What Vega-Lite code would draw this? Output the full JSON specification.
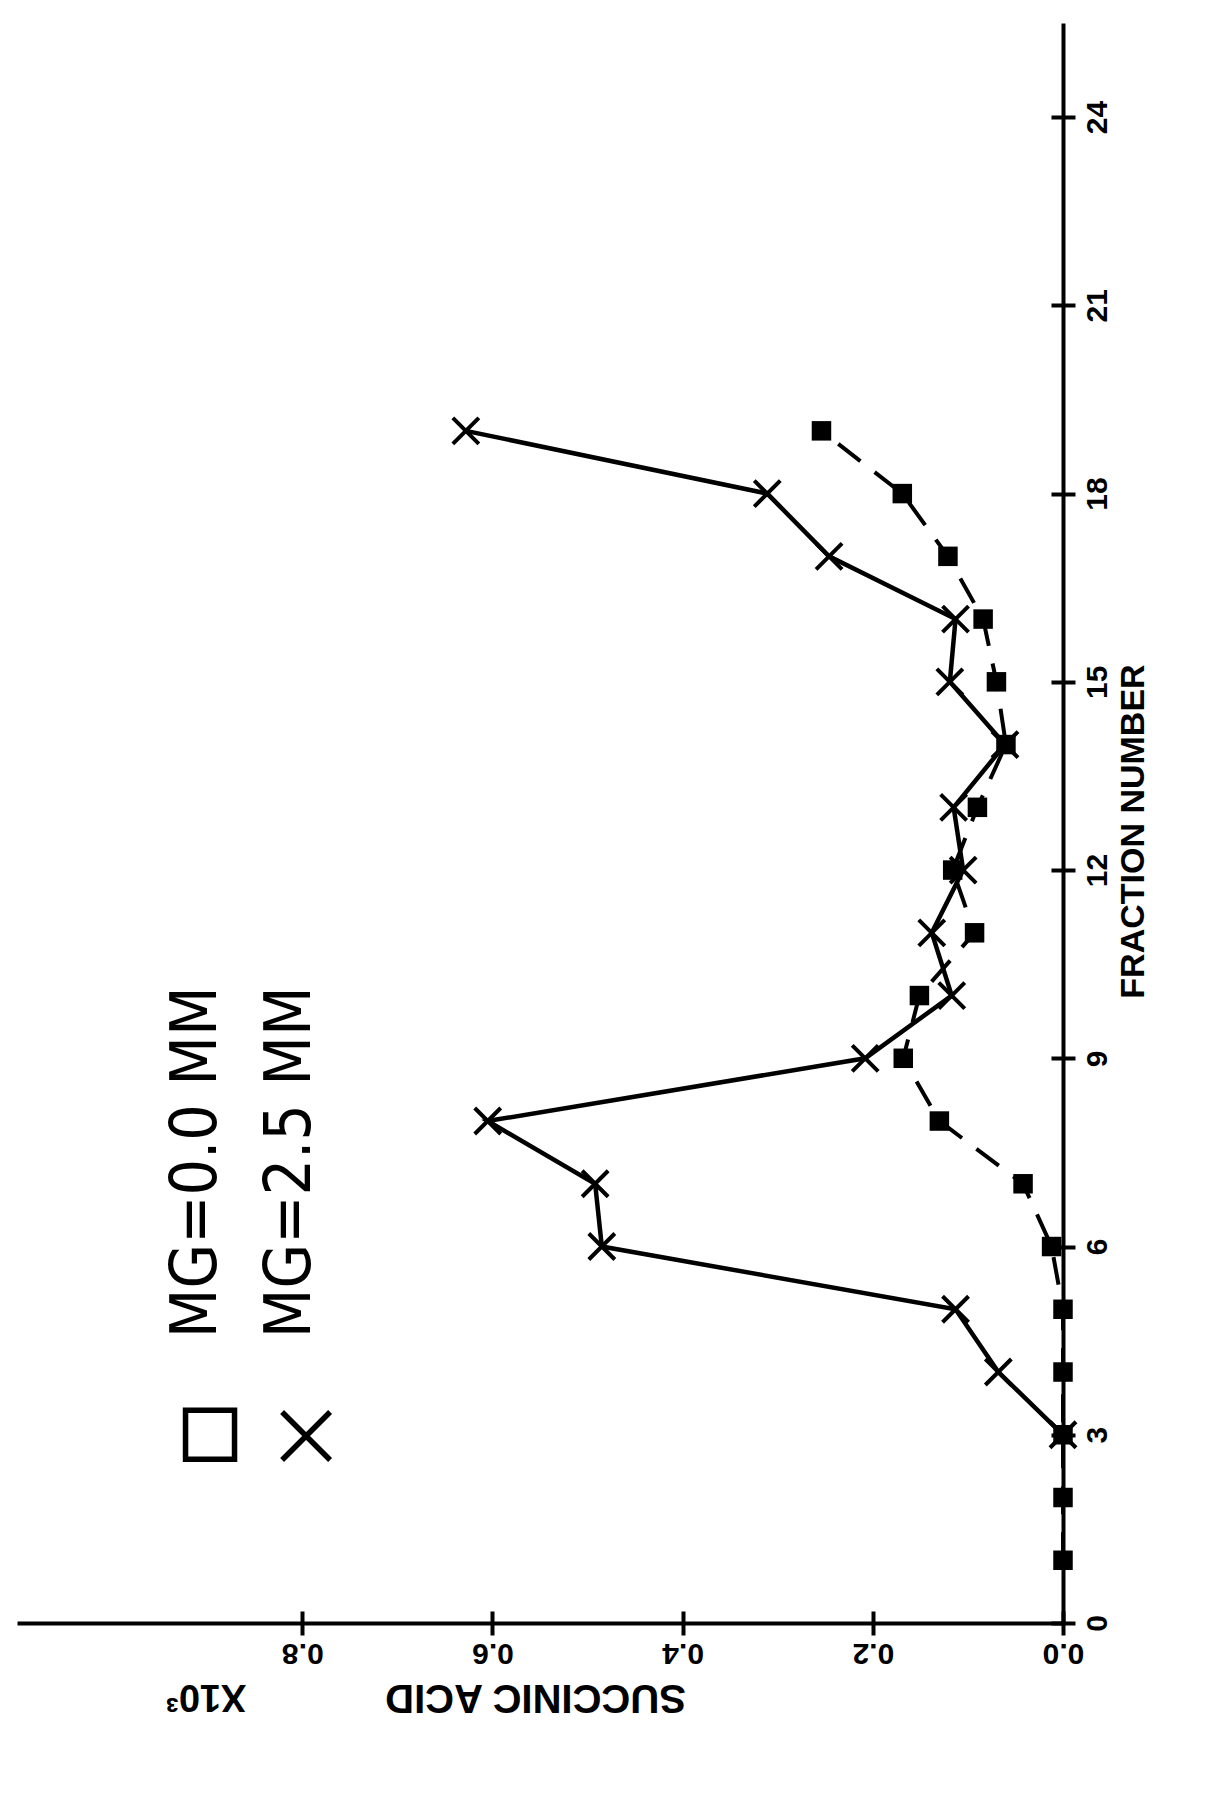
{
  "$schema": "https://vega.github.io/schema/vega-lite/v6.json",
  "width": 1046,
  "height": 1600,
  "autosize": {"type": "none"},
  "padding": {"left": 17, "top": 23, "right": 162, "bottom": 173},
  "background": "white",
  "config": {
    "view": {"stroke": null},
    "axis": {
      "domainColor": "black",
      "domainWidth": 4,
      "tickColor": "black",
      "tickWidth": 4,
      "tickSize": 12,
      "labelColor": "black",
      "titleColor": "black",
      "labelFont": "Liberation Sans",
      "labelFontWeight": "bold",
      "titleFont": "Liberation Sans",
      "titleFontWeight": "bold",
      "labelOverlap": false,
      "labelFlush": false,
      "grid": true,
      "gridColor": "black",
      "gridWidth": 4,
      "gridOpacity": 1
    }
  },
  "datasets": {
    "mg00": [
      {"fraction": 1, "acid": 0},
      {"fraction": 2, "acid": 0},
      {"fraction": 3, "acid": 0},
      {"fraction": 4, "acid": 0},
      {"fraction": 5, "acid": 0},
      {"fraction": 6, "acid": 0.012},
      {"fraction": 7, "acid": 0.042},
      {"fraction": 8, "acid": 0.13},
      {"fraction": 9, "acid": 0.168},
      {"fraction": 10, "acid": 0.151},
      {"fraction": 11, "acid": 0.093},
      {"fraction": 12, "acid": 0.116},
      {"fraction": 13, "acid": 0.09},
      {"fraction": 14, "acid": 0.06},
      {"fraction": 15, "acid": 0.07},
      {"fraction": 16, "acid": 0.084},
      {"fraction": 17, "acid": 0.121},
      {"fraction": 18, "acid": 0.169},
      {"fraction": 19, "acid": 0.254}
    ],
    "mg25": [
      {"fraction": 3, "acid": 0},
      {"fraction": 4, "acid": 0.068},
      {"fraction": 5, "acid": 0.113},
      {"fraction": 6, "acid": 0.485},
      {"fraction": 7, "acid": 0.492},
      {"fraction": 8, "acid": 0.605},
      {"fraction": 9, "acid": 0.208},
      {"fraction": 10, "acid": 0.117},
      {"fraction": 11, "acid": 0.138},
      {"fraction": 12, "acid": 0.105},
      {"fraction": 13, "acid": 0.115},
      {"fraction": 14, "acid": 0.061},
      {"fraction": 15, "acid": 0.119},
      {"fraction": 16, "acid": 0.113},
      {"fraction": 17, "acid": 0.246},
      {"fraction": 18, "acid": 0.311},
      {"fraction": 19, "acid": 0.628}
    ],
    "legendText": [
      {"acid": 0.911, "fraction": 4.54, "label": "MG=0.0 MM"},
      {"acid": 0.812, "fraction": 4.54, "label": "MG=2.5 MM"}
    ],
    "legendSquare": [{"acid": 0.897, "fraction": 3.0}],
    "legendCross": [{"acid": 0.796, "fraction": 2.98}],
    "scaleNote": [{"acid": 0.901, "fraction": -1.16, "label": "X10³"}]
  },
  "encoding": {
    "x": {
      "field": "acid",
      "type": "quantitative",
      "scale": {"domain": [0, 1.1], "reverse": true, "nice": false, "zero": false},
      "axis": {
        "orient": "bottom",
        "title": "SUCCINIC ACID",
        "values": [0, 0.2, 0.4, 0.6, 0.8],
        "format": ".1f",
        "labelAngle": 180,
        "labelAlign": "center",
        "labelBaseline": "bottom",
        "labelPadding": 2,
        "labelFontSize": 30,
        "gridDash": [0, 1588, 12, 4000],
        "titleAngle": 180,
        "titleAlign": "center",
        "titleBaseline": "middle",
        "titleX": 518,
        "titleY": 73,
        "titleFontSize": 40
      }
    },
    "y": {
      "field": "fraction",
      "type": "quantitative",
      "scale": {"domain": [0, 25.5], "nice": false, "zero": false},
      "axis": {
        "orient": "right",
        "title": "FRACTION NUMBER",
        "values": [0, 3, 6, 9, 12, 15, 18, 21, 24],
        "labelAngle": 270,
        "labelAlign": "center",
        "labelBaseline": "top",
        "labelPadding": 7,
        "labelFontSize": 30,
        "gridDash": [0, 1034, 12, 4000],
        "titleAngle": 270,
        "titleAlign": "center",
        "titleBaseline": "middle",
        "titleX": 70,
        "titleY": 808,
        "titleFontSize": 34
      }
    }
  },
  "layer": [
    {
      "data": {"name": "mg00"},
      "mark": {"type": "line", "color": "black", "strokeWidth": 4, "strokeDash": [28, 18]},
      "encoding": {"order": {"field": "fraction", "type": "quantitative"}}
    },
    {
      "data": {"name": "mg00"},
      "mark": {"type": "point", "shape": "square", "filled": true, "color": "black", "size": 380, "opacity": 1}
    },
    {
      "data": {"name": "mg25"},
      "mark": {"type": "line", "color": "black", "strokeWidth": 4.5},
      "encoding": {"order": {"field": "fraction", "type": "quantitative"}}
    },
    {
      "data": {"name": "mg25"},
      "mark": {"type": "point", "shape": "M-1,-1L1,1M-1,1L1,-1", "filled": false, "color": "black", "strokeWidth": 4, "size": 676, "opacity": 1}
    },
    {
      "data": {"name": "legendSquare"},
      "mark": {"type": "point", "shape": "square", "filled": false, "color": "black", "strokeWidth": 5.5, "size": 2400, "opacity": 1}
    },
    {
      "data": {"name": "legendCross"},
      "mark": {"type": "point", "shape": "M-1,-1L1,1M-1,1L1,-1", "filled": false, "color": "black", "strokeWidth": 5.5, "size": 2304, "opacity": 1}
    },
    {
      "data": {"name": "legendText"},
      "mark": {"type": "text", "angle": 270, "align": "left", "baseline": "middle", "font": "DejaVu Sans Condensed, DejaVu Sans", "fontSize": 64, "color": "black"},
      "encoding": {"text": {"field": "label", "type": "nominal"}}
    },
    {
      "data": {"name": "scaleNote"},
      "mark": {"type": "text", "angle": 180, "align": "center", "baseline": "middle", "font": "Liberation Sans", "fontWeight": "bold", "fontSize": 38, "color": "black"},
      "encoding": {"text": {"field": "label", "type": "nominal"}}
    }
  ]
}
